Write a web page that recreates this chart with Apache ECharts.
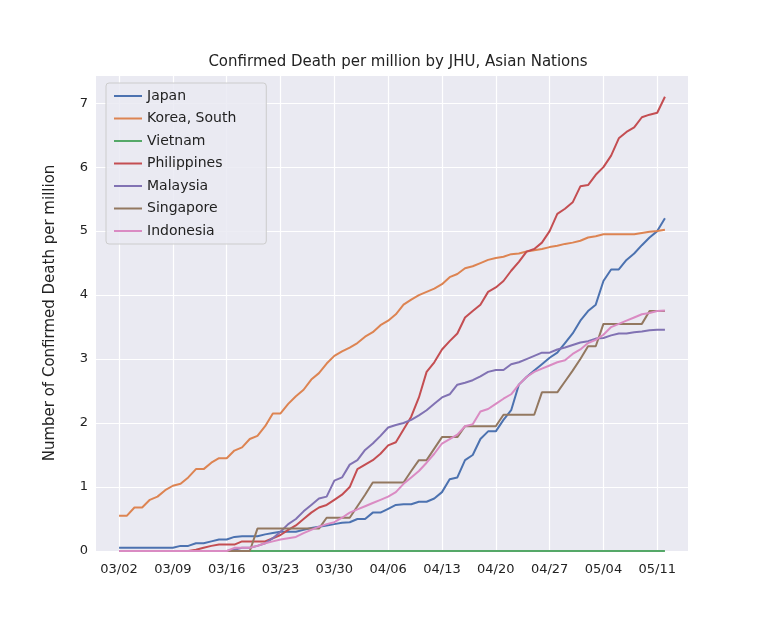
<!DOCTYPE html>
<html><head><meta charset="utf-8">
<script src="https://cdn.jsdelivr.net/npm/echarts@6/dist/echarts.min.js"></script>
<style>html,body{margin:0;padding:0;background:#fff}#c{width:767px;height:620px}</style>
</head><body><div id="c"></div>
<script>
const startDate = [3, 2];
const nDays = 72;
const names = ["Japan","Korea, South","Vietnam","Philippines","Malaysia","Singapore","Indonesia"];
const colors = ["#4c72b0","#dd8452","#55a868","#c44e52","#8172b3","#937860","#da8bc3"];
const japan = [0.05,0.05,0.05,0.05,0.05,0.05,0.05,0.05,0.08,0.08,0.12,0.12,0.15,0.18,0.18,0.22,0.23,0.23,0.23,0.26,0.28,0.3,0.3,0.3,0.33,0.36,0.38,0.4,0.42,0.44,0.45,0.5,0.5,0.6,0.6,0.66,0.72,0.73,0.73,0.77,0.77,0.82,0.92,1.12,1.15,1.42,1.5,1.75,1.87,1.87,2.05,2.2,2.6,2.72,2.82,2.92,3.02,3.1,3.25,3.4,3.6,3.75,3.85,4.22,4.4,4.4,4.55,4.65,4.78,4.9,5.0,5.2];
const korea = [0.55,0.55,0.68,0.68,0.8,0.85,0.95,1.02,1.05,1.15,1.28,1.28,1.38,1.45,1.45,1.57,1.62,1.75,1.8,1.95,2.15,2.15,2.3,2.42,2.52,2.68,2.78,2.93,3.05,3.12,3.18,3.25,3.35,3.42,3.53,3.6,3.7,3.85,3.93,4.0,4.05,4.1,4.17,4.28,4.33,4.42,4.45,4.5,4.55,4.58,4.6,4.64,4.65,4.68,4.7,4.72,4.75,4.77,4.8,4.82,4.85,4.9,4.92,4.95,4.95,4.95,4.95,4.95,4.97,4.99,5.0,5.02];
const vietnam = new Array(72).fill(0);
const philippines = [0,0,0,0,0,0,0,0,0,0,0.02,0.05,0.08,0.1,0.1,0.1,0.15,0.15,0.15,0.15,0.2,0.25,0.33,0.4,0.5,0.6,0.68,0.72,0.8,0.88,1.0,1.28,1.35,1.42,1.52,1.65,1.7,1.9,2.1,2.4,2.8,2.95,3.15,3.28,3.4,3.65,3.75,3.85,4.05,4.12,4.22,4.38,4.52,4.68,4.72,4.82,5.0,5.27,5.35,5.45,5.7,5.72,5.88,6.0,6.18,6.45,6.55,6.62,6.78,6.82,6.85,7.1];
const malaysia = [0,0,0,0,0,0,0,0,0,0,0,0,0,0,0,0.02,0.05,0.05,0.08,0.12,0.2,0.3,0.42,0.5,0.62,0.72,0.82,0.85,1.1,1.15,1.35,1.42,1.58,1.68,1.8,1.93,1.97,2.0,2.05,2.12,2.2,2.3,2.4,2.45,2.6,2.63,2.67,2.73,2.8,2.83,2.83,2.92,2.95,3.0,3.05,3.1,3.1,3.15,3.18,3.22,3.26,3.28,3.32,3.33,3.37,3.4,3.4,3.42,3.43,3.45,3.46,3.46];
const singapore = [0,0,0,0,0,0,0,0,0,0,0,0,0,0,0,0,0,0,0.35,0.35,0.35,0.35,0.35,0.35,0.35,0.35,0.35,0.52,0.52,0.52,0.52,0.7,0.88,1.07,1.07,1.07,1.07,1.07,1.25,1.42,1.42,1.6,1.78,1.78,1.78,1.95,1.95,1.95,1.95,1.95,2.13,2.13,2.13,2.13,2.13,2.48,2.48,2.48,2.65,2.82,3.0,3.2,3.2,3.55,3.55,3.55,3.55,3.55,3.55,3.75,3.75,3.75];
const indonesia = [0,0,0,0,0,0,0,0,0,0,0,0,0,0,0,0.05,0.05,0.05,0.08,0.12,0.15,0.18,0.2,0.22,0.28,0.33,0.38,0.42,0.45,0.52,0.6,0.65,0.7,0.75,0.8,0.85,0.92,1.05,1.15,1.25,1.38,1.52,1.68,1.75,1.82,1.95,1.98,2.18,2.22,2.3,2.38,2.45,2.6,2.72,2.8,2.85,2.9,2.95,2.98,3.08,3.15,3.25,3.3,3.38,3.5,3.55,3.6,3.65,3.7,3.72,3.75,3.76];
const seriesData = [japan,korea,vietnam,philippines,malaysia,singapore,indonesia];
const pad = 3;
const cats = [];
for (let i = -pad; i < nDays + pad; i++) {
  const d = new Date(2020, startDate[0]-1, startDate[1] + i);
  cats.push(String(d.getMonth()+1).padStart(2,'0') + '/' + String(d.getDate()).padStart(2,'0'));
}
const padArr = a => [...new Array(pad).fill(null), ...a, ...new Array(pad).fill(null)];
const chart = echarts.init(document.getElementById('c'));
const F = 'DejaVu Sans';
chart.setOption({
  animation:false,
  textStyle:{fontFamily:F},
  title:{text:'Confirmed Death per million by JHU, Asian Nations',left:393,top:50,textAlign:'center',textStyle:{fontSize:15,fontWeight:'normal',color:'#222',fontFamily:F}},
  legend:{orient:'vertical',left:106,top:83,itemWidth:28,itemHeight:2,itemGap:8.5,icon:'rect',
    backgroundColor:'rgba(234,234,242,0.85)',borderColor:'#ccc',borderWidth:1,borderRadius:3,padding:[6,30,6,8],
    textStyle:{fontSize:14,color:'#222',fontFamily:F},data:names},
  grid:{left:96,right:79,top:75,bottom:69,backgroundColor:'#eaeaf2',show:true,borderWidth:0},
  xAxis:{type:'category',boundaryGap:false,data:cats,
    axisLine:{show:false},axisTick:{show:false},
    axisLabel:{interval:(i)=> (i-pad)%7===0 && i>=pad && i-pad<nDays,color:'#222',fontSize:13,margin:12,fontFamily:F},
    splitLine:{show:true,interval:(i)=> (i-pad)%7===0 && i>=pad && i-pad<nDays,lineStyle:{color:'#fff',width:1.2}}},
  yAxis:{type:'value',min:0,max:7.44,interval:1,name:'Number of Confirmed Death per million',nameLocation:'middle',nameGap:38,
    nameTextStyle:{fontSize:15,color:'#222',fontFamily:F},
    axisLine:{show:false},axisTick:{show:false},
    axisLabel:{color:'#222',fontSize:13,fontFamily:F,formatter:v=>Number.isInteger(v)?v:''},
    splitLine:{lineStyle:{color:'#fff',width:1.2}}},
  series:names.map((n,i)=>({name:n,type:'line',data:padArr(seriesData[i]),showSymbol:false,symbol:'none',
    lineStyle:{color:colors[i],width:2},itemStyle:{color:colors[i]},z:i===2?1:2}))
});
</script></body></html>
